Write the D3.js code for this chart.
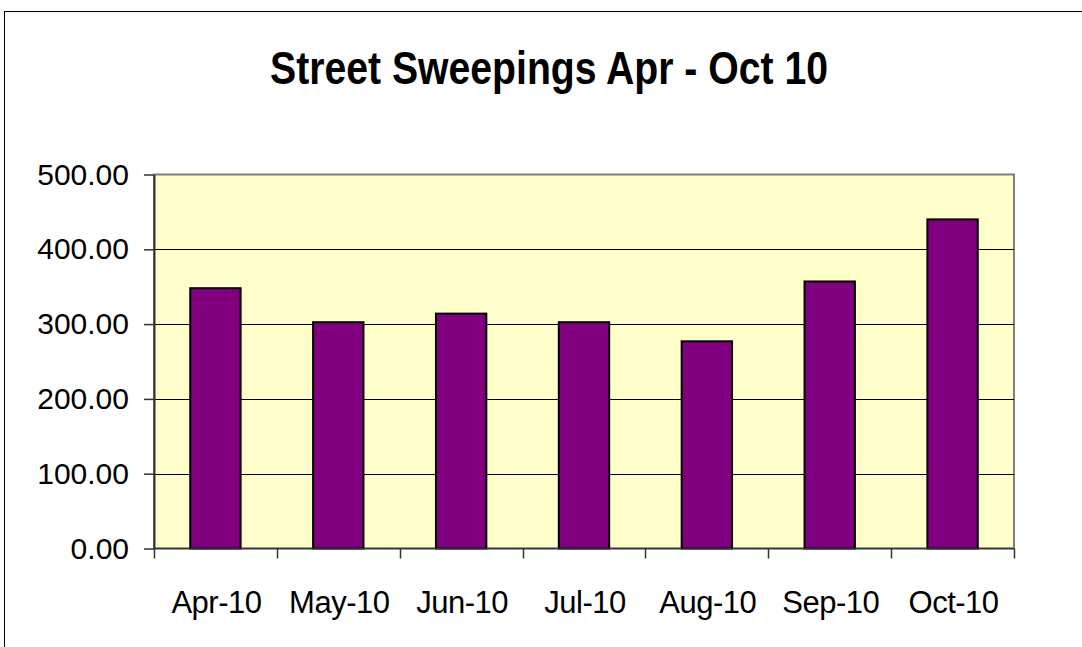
<!DOCTYPE html>
<html>
<head>
<meta charset="utf-8">
<script src="https://cdn.jsdelivr.net/npm/d3@7"></script>
<style>
  body { margin: 0; background: #fff; }
  svg { display: block; font-family: "Liberation Sans", Arial, sans-serif; }
</style>
</head>
<body>
<svg width="1082" height="647"></svg>
<script>
// data
var months = ["Apr-10", "May-10", "Jun-10", "Jul-10", "Aug-10", "Sep-10", "Oct-10"];
var sweepings = [348, 302.5, 314, 302.5, 277, 357, 440];
var yTicks = [0, 100, 200, 300, 400, 500];

var svg = d3.select("svg");

var plot = { left: 154, right: 1014, top: 174.5, bottom: 548.5 };

// outer chart frame (runs off right and bottom edges)
svg.append("rect")
	.attr("x", 4.5).attr("y", 11.5)
	.attr("width", 1100).attr("height", 700)
	.attr("fill", "#fff")
	.attr("stroke", "#000")
	.attr("stroke-width", 1);

svg.append("text")
	.attr("x", 549).attr("y", 84)
	.attr("text-anchor", "middle")
	.attr("font-size", 46)
	.attr("font-weight", "bold")
	.attr("textLength", 558)
	.attr("lengthAdjust", "spacingAndGlyphs")
	.text("Street Sweepings Apr - Oct 10");

var x = d3.scaleBand()
	.domain(months)
	.range([plot.left, plot.right])
	.paddingInner(0.59)
	.paddingOuter(0.295);

var y = d3.scaleLinear()
	.domain([0, 500])
	.range([plot.bottom, plot.top]);

// plot background
svg.append("rect")
	.attr("x", plot.left).attr("y", plot.top)
	.attr("width", plot.right - plot.left)
	.attr("height", plot.bottom - plot.top)
	.attr("fill", "#ffffcc")
	.attr("stroke", "#808080")
	.attr("stroke-width", 2);

// gridlines
svg.append("g")
	.selectAll("line")
	.data(yTicks.filter(function(d) { return d > 0 && d < 500; }))
	.enter().append("line")
	.attr("x1", plot.left).attr("x2", plot.right)
	.attr("y1", function(d) { return Math.round(y(d)) + 0.5; })
	.attr("y2", function(d) { return Math.round(y(d)) + 0.5; })
	.attr("stroke", "#000")
	.attr("stroke-width", 1);

// bars
svg.append("g")
	.selectAll("rect")
	.data(sweepings)
	.enter().append("rect")
	.attr("x", function(d, i) { return x(months[i]); })
	.attr("y", function(d) { return y(d); })
	.attr("width", x.bandwidth())
	.attr("height", function(d) { return plot.bottom - y(d); })
	.attr("fill", "#800080")
	.attr("stroke", "#000")
	.attr("stroke-width", 2);

// y axis
var yAxis = svg.append("g")
	.attr("transform", "translate(" + plot.left + ",0)")
	.call(d3.axisLeft(y).tickValues(yTicks).tickFormat(d3.format(".2f"))
		.tickSizeInner(10).tickSizeOuter(0).tickPadding(15));
yAxis.select(".domain").attr("stroke", "#333").attr("stroke-width", 2);
yAxis.selectAll(".tick line").attr("stroke", "#333").attr("stroke-width", 1.5);
yAxis.selectAll(".tick text")
	.attr("font-size", 30)
	.attr("font-family", "Liberation Sans, Arial, sans-serif")
	.attr("fill", "#000");

// x axis with ticks on category boundaries
var xAxis = svg.append("g")
	.attr("transform", "translate(0," + plot.bottom + ")");
xAxis.append("line")
	.attr("x1", plot.left).attr("x2", plot.right)
	.attr("stroke", "#333").attr("stroke-width", 1.5);
var bounds = months.map(function(m) { return x(m) - x.step() * x.paddingOuter(); });
bounds.push(plot.right);
xAxis.selectAll("line.tick")
	.data(bounds)
	.enter().append("line")
	.attr("class", "tick")
	.attr("x1", function(d) { return Math.round(d) + 0.5; })
	.attr("x2", function(d) { return Math.round(d) + 0.5; })
	.attr("y1", 0).attr("y2", 10)
	.attr("stroke", "#333").attr("stroke-width", 1.5);
xAxis.selectAll("text")
	.data(months)
	.enter().append("text")
	.attr("x", function(d) { return x(d) + x.bandwidth() / 2 + 1; })
	.attr("y", 64)
	.attr("text-anchor", "middle")
	.attr("font-size", 31)
	.attr("letter-spacing", -0.5)
	.text(function(d) { return d; });
</script>
</body>
</html>
